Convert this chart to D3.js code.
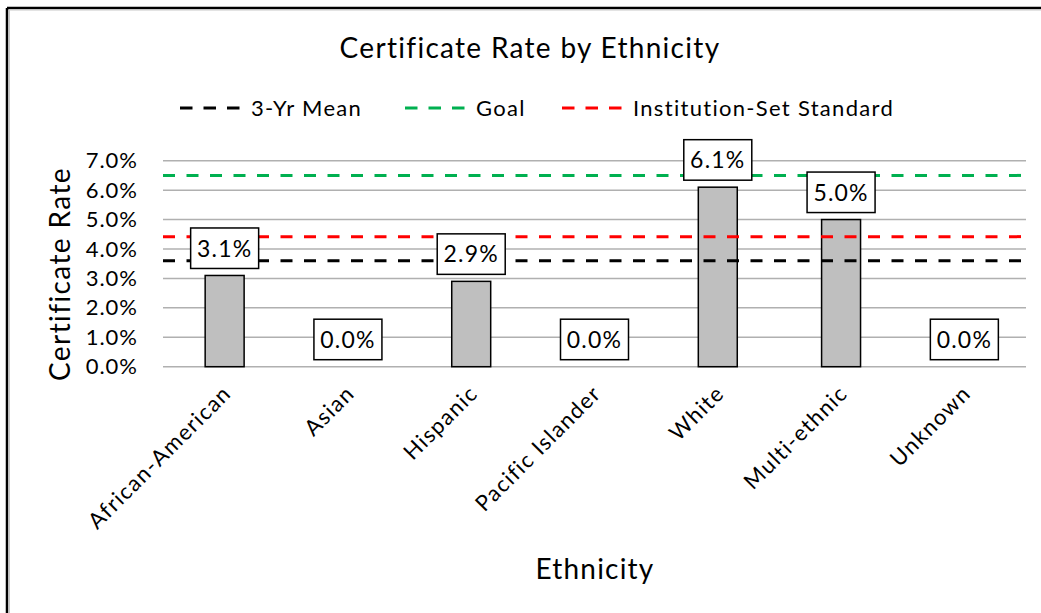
<!DOCTYPE html>
<html>
<head>
<meta charset="UTF-8">
<title>Certificate Rate by Ethnicity</title>
<script src="https://cdn.jsdelivr.net/npm/d3@7"></script>
<style>
  body { margin: 0; background: #fff; }
  text { font-family: Lato, "Open Sans", sans-serif; fill: #000; }
</style>
</head>
<body>
<svg width="1041" height="613"></svg>
<script>
// data
var ethnicities = ["African-American", "Asian", "Hispanic", "Pacific Islander", "White", "Multi-ethnic", "Unknown"];
var rates = [0.031, 0, 0.029, 0, 0.061, 0.050, 0];
var yTicks = [0, 0.01, 0.02, 0.03, 0.04, 0.05, 0.06, 0.07];
var refNames = ["3-Yr Mean", "Goal", "Institution-Set Standard"];
var refValues = [0.036, 0.065, 0.0442];
var refColors = ["#000000", "#00b050", "#ff0000"];

var svg = d3.select("svg");
var plot = {left: 163, right: 1026, top: 160.7, bottom: 366.7};

var x = d3.scaleBand()
  .domain(ethnicities)
  .range([plot.left, plot.right])
  .paddingInner(0.684)
  .paddingOuter(0.342);

var y = d3.scaleLinear()
  .domain([0, 0.07])
  .range([plot.bottom, plot.top]);

var fmt = d3.format(".1%");

// frame (only top and left edges show in the crop)
svg.append("line").attr("x1", 7).attr("y1", 8).attr("x2", 1041).attr("y2", 8)
  .attr("stroke", "#000").attr("stroke-width", 2.5);
svg.append("line").attr("x1", 7).attr("y1", 8).attr("x2", 7).attr("y2", 613)
  .attr("stroke", "#000").attr("stroke-width", 2.5);
svg.append("line").attr("x1", 9.5).attr("y1", 10).attr("x2", 1041).attr("y2", 10)
  .attr("stroke", "#c8c8c8").attr("stroke-width", 1);
svg.append("line").attr("x1", 9.5).attr("y1", 10).attr("x2", 9.5).attr("y2", 613)
  .attr("stroke", "#c8c8c8").attr("stroke-width", 1);

// title
svg.append("text")
  .attr("x", 530).attr("y", 58)
  .attr("text-anchor", "middle")
  .style("font-size", "28px")
  .style("letter-spacing", "1.3px")
  .text("Certificate Rate by Ethnicity");

// legend
var legendX = [180, 405, 562];
var leg = svg.append("g").selectAll("g")
  .data(refNames)
  .enter().append("g")
  .attr("transform", function(d, i) { return "translate(" + legendX[i] + ",108)"; });
leg.append("line")
  .attr("x1", 0).attr("x2", 62)
  .attr("stroke", function(d, i) { return refColors[i]; })
  .attr("stroke-width", 3)
  .attr("stroke-dasharray", "12.5,11");
leg.append("text")
  .attr("x", 71).attr("dy", "0.35em")
  .style("font-size", "22px")
  .style("letter-spacing", "1.3px")
  .text(function(d) { return d; });

// gridlines
svg.append("g").selectAll("line")
  .data(yTicks)
  .enter().append("line")
  .attr("x1", plot.left).attr("x2", plot.right)
  .attr("y1", function(d) { return y(d); })
  .attr("y2", function(d) { return y(d); })
  .attr("stroke", "#b0b0b0")
  .attr("stroke-width", 1.5);

// y axis labels
var yAxis = svg.append("g")
  .attr("transform", "translate(" + (plot.left - 18) + ",0)")
  .call(d3.axisLeft(y).tickValues(yTicks).tickFormat(fmt).tickSize(0).tickPadding(7));
yAxis.select(".domain").remove();
yAxis.selectAll("text")
  .style("font-size", "22px")
  .style("letter-spacing", "1px")
  .style("font-family", "Lato, sans-serif");

// bars
svg.append("g").selectAll("rect")
  .data(rates)
  .enter().append("rect")
  .attr("x", function(d, i) { return x(ethnicities[i]); })
  .attr("width", x.bandwidth())
  .attr("y", function(d) { return y(d); })
  .attr("height", function(d) { return plot.bottom - y(d); })
  .attr("fill", "#bfbfbf")
  .attr("stroke", "#000")
  .attr("stroke-width", 1.5);

// reference lines
svg.append("g").selectAll("line")
  .data(refValues)
  .enter().append("line")
  .attr("x1", plot.left).attr("x2", plot.right)
  .attr("y1", function(d) { return y(d); })
  .attr("y2", function(d) { return y(d); })
  .attr("stroke", function(d, i) { return refColors[i]; })
  .attr("stroke-width", 3)
  .attr("stroke-dasharray", "12,11.5");

// data labels in boxes
var lbl = svg.append("g").selectAll("g")
  .data(rates)
  .enter().append("g")
  .attr("transform", function(d, i) {
    return "translate(" + (x(ethnicities[i]) + x.bandwidth() / 2) + "," + (y(d) - 7) + ")";
  });
lbl.append("rect")
  .attr("x", -34).attr("y", -40.5)
  .attr("width", 68).attr("height", 40.5)
  .attr("fill", "#fff")
  .attr("stroke", "#000")
  .attr("stroke-width", 1.5);
lbl.append("text")
  .attr("y", -20).attr("dy", "0.35em")
  .attr("text-anchor", "middle")
  .style("font-size", "23px")
  .style("letter-spacing", "1.2px")
  .text(function(d) { return fmt(d); });

// x labels
svg.append("g").selectAll("text")
  .data(ethnicities)
  .enter().append("text")
  .attr("transform", function(d) {
    return "translate(" + (x(d) + x.bandwidth() / 2 - 3) + ",384) rotate(-45)";
  })
  .attr("text-anchor", "end")
  .attr("dy", "0.7em")
  .style("font-size", "22px")
  .style("letter-spacing", "1.4px")
  .text(function(d) { return d; });

// axis titles
svg.append("text")
  .attr("x", 595).attr("y", 579)
  .attr("text-anchor", "middle")
  .style("font-size", "28px")
  .style("letter-spacing", "1.2px")
  .text("Ethnicity");

svg.append("text")
  .attr("transform", "translate(70,274) rotate(-90)")
  .attr("text-anchor", "middle")
  .style("font-size", "28px")
  .style("letter-spacing", "1.4px")
  .text("Certificate Rate");
</script>
</body>
</html>
